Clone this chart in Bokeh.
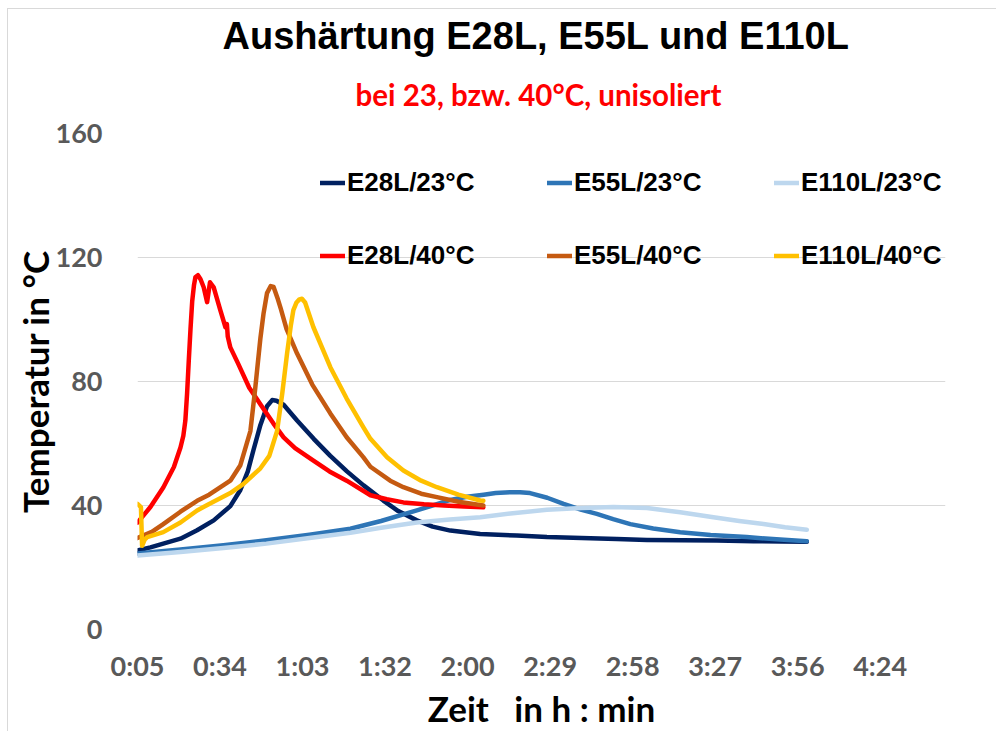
from bokeh.plotting import figure
from bokeh.models import Range1d, FixedTicker, Legend, LegendItem, Title
from bokeh.embed import file_html
from bokeh.resources import INLINE

# ---------------- data (time in minutes, temperature in °C) ----------------
e28_23_t = [5, 9.5, 14, 20, 25.8, 31.6, 37.4, 40.9, 43.5, 45.5, 47.9, 50.2, 52, 53.5, 56, 60.7, 66.5, 72.3,
            78.1, 83.9, 90.8, 96, 102.5, 108, 114.2, 124.6, 137.4, 147.9, 160, 172.3, 182.8, 195, 207.2,
            220, 230, 238.6]
e28_23_T = [25.5, 26.5, 27.7, 29.3, 32, 35.2, 39.8, 45, 51, 58, 66, 72, 74, 73.8, 72.5, 67.4, 61.5, 56,
            51, 46.5, 41.6, 38.2, 35.2, 33.2, 31.9, 30.8, 30.3, 29.8, 29.5, 29.2, 28.9, 28.8, 28.7,
            28.5, 28.4, 28.3]

e55_23_t = [5, 20, 35, 50, 65, 79.3, 90, 102.5, 114.2, 120, 125.8, 130, 135, 138.5, 142, 148, 153.7, 160,
            165.3, 171, 177, 185, 194.4, 205, 217.6, 228, 238.6]
e55_23_T = [24.5, 25.8, 27.2, 28.8, 30.6, 32.5, 35, 38.4, 41.8, 42.8, 43.5, 44.0, 44.3, 44.3, 44.0, 42.5,
            40.5, 38.6, 37.3, 35.6, 34, 32.6, 31.4, 30.5, 29.8, 29.1, 28.5]

e110_23_t = [5, 20, 35, 50, 65, 79.3, 90, 102.5, 114, 124.6, 136, 147.9, 160, 171.1, 182.8, 194.4, 206,
             215, 223.5, 231, 238.6]
e110_23_T = [23.9, 25.0, 26.3, 27.7, 29.5, 31.2, 32.8, 34.5, 35.5, 36.2, 37.5, 38.6, 39.2, 39.5, 39.2,
             37.8, 36.2, 35.0, 34.0, 33.0, 32.2]

e28_40_t = [5, 9.5, 14, 17.7, 20, 21, 21.7, 22.3, 22.9, 23.5, 24.1, 24.7, 25.2, 26.1, 27, 28.1, 29.3, 30.3,
            31.6, 33.9, 35.7, 36.2, 36.5, 37.4, 40, 44, 48, 52.4, 56, 60, 66.4, 72, 78, 86.3, 92, 97.8,
            105, 112, 119, 125.7]
e28_40_T = [34.5, 39.5, 45.8, 52.4, 58.7, 62.5, 67.4, 76, 86.8, 97, 106, 111, 113.6, 114.3, 113, 110.4,
            105.6, 112, 110.4, 103, 97.5, 98.5, 94.5, 91, 86, 78, 72.5, 66.5, 62, 58.5, 54.5, 51, 48,
            43.3, 42.0, 41.0, 40.4, 40, 39.7, 39.4]

e55_40_t = [5, 10, 14, 20, 25.8, 30, 37.4, 40.9, 42.5, 44.4, 46, 47.9, 49, 50.2, 51.5, 52.5, 54, 55, 57,
            60.7, 66, 72.3, 78, 83.8, 86.3, 93.2, 97.8, 104, 109.5, 117, 125.7]
e55_40_T = [29.5, 31.5, 34, 38, 41.5, 43.5, 48, 53, 58, 64, 77, 94, 102, 108.5, 110.8, 110.5, 106.5, 103.5,
            97, 89, 79, 69.7, 62, 55.6, 52.5, 48, 45.9, 43.8, 42.7, 41.2, 40]

e110_40_t = [5, 6.2, 6.6, 7.5, 8.4, 14, 20, 25.8, 30, 37.4, 42, 47.9, 51, 53.7, 55.5, 57.2, 58.5, 59.4,
             60.5, 61.5, 62.4, 63.5, 66.4, 72.3, 78, 83.8, 86.3, 92.1, 97.8, 104, 109.5, 117, 124.6, 125.7]
e110_40_T = [40.5, 39.5, 27, 29, 29.8, 31.4, 34.5, 38.4, 40.5, 44, 47, 52, 56, 64, 76, 89, 98, 103, 105.5,
             106.5, 106.7, 105.5, 97.5, 84.6, 74.5, 65.3, 61.5, 55.6, 51.3, 48, 45.9, 43.5, 41.6, 41.5]

series_names = ["E28L/23°C", "E55L/23°C", "E110L/23°C", "E28L/40°C", "E55L/40°C", "E110L/40°C"]
series_colors = ["#002060", "#2E75B6", "#BDD7EE", "#FF0000", "#C55A11", "#FFC000"]

x_tick_pos = [5, 33.8, 62.6, 91.4, 120.2, 149.0, 177.8, 206.6, 235.4, 264.2]
x_tick_labels = ["0:05", "0:34", "1:03", "1:32", "2:00", "2:29", "2:58", "3:27", "3:56", "4:24"]
y_ticks = [0, 40, 80, 120, 160]

title_text = "Aushärtung E28L, E55L und E110L"
subtitle_text = "bei 23, bzw. 40°C, unisoliert"
x_title = "Zeit \u00a0 in h : min"
y_title = "Temperatur in °C"

# ---------------- figure ----------------
W, H = 996, 731
p = figure(width=W, height=H, output_backend="svg", toolbar_location=None,
           x_range=Range1d(5, 287), y_range=Range1d(0, 160),
           styles={"background": "linear-gradient(#D9D9D9,#D9D9D9) 7px 8px / 1px 100% no-repeat, "
                                 "linear-gradient(#D9D9D9,#D9D9D9) 7px 8px / 100% 1px no-repeat, white"})
p.title = None
p.min_border_left = 137
p.min_border_right = W - 945
p.min_border_top = 133
p.min_border_bottom = H - 629
p.outline_line_color = None
p.background_fill_color = "white"
p.border_fill_color = None

TICK_FONT = "Lato"
p.xaxis.ticker = FixedTicker(ticks=x_tick_pos)
p.xaxis.major_label_overrides = {v: s for v, s in zip(x_tick_pos, x_tick_labels)}
p.yaxis.ticker = FixedTicker(ticks=y_ticks)
for ax in (p.xaxis[0], p.yaxis[0]):
    ax.axis_line_color = None
    ax.major_tick_line_color = None
    ax.minor_tick_line_color = None
    ax.major_tick_out = 0
    ax.major_tick_in = 0
    ax.minor_tick_out = 0
    ax.minor_tick_in = 0
    ax.major_label_text_font = TICK_FONT
    ax.major_label_text_font_style = "bold"
    ax.major_label_text_font_size = "27px"
    ax.major_label_text_color = "#595959"
    ax.axis_label_text_font = "Lato"
    ax.axis_label_text_font_style = "bold"
    ax.axis_label_text_font_size = "35px"
    ax.axis_label_text_color = "black"
p.xaxis.major_label_standoff = 19
p.yaxis.major_label_standoff = 35
p.xaxis.axis_label = x_title
p.yaxis.axis_label = y_title
p.xaxis.axis_label_standoff = 2
p.yaxis.axis_label_standoff = -3

p.xgrid.grid_line_color = None
p.ygrid.grid_line_color = "#D9D9D9"
p.ygrid.grid_line_width = 1

xs = [e28_23_t, e55_23_t, e110_23_t, e28_40_t, e55_40_t, e110_40_t]
ys = [e28_23_T, e55_23_T, e110_23_T, e28_40_T, e55_40_T, e110_40_T]
items = []
for name, c, x, y in zip(series_names, series_colors, xs, ys):
    r = p.line(x, y, line_color=c, line_width=4.5, line_join="round", line_cap="round")
    items.append(LegendItem(label=name, renderers=[r]))

legend = Legend(items=items, ncols=3, orientation="horizontal",
                location=(183, 337), padding=0, margin=0, spacing=0,
                glyph_width=25, glyph_height=73, label_height=73, label_width=200,
                label_standoff=2, border_line_color=None, background_fill_alpha=0,
                label_text_font="Liberation Sans", label_text_font_style="bold",
                label_text_font_size="26px", label_text_color="black",
                label_text_baseline="middle")
p.add_layout(legend, "center")

# titles: the first added "above" sits next to the frame
p.add_layout(Title(text=subtitle_text, align="left", offset=218, standoff=44,
                   text_font="Lato", text_font_style="bold", text_font_size="29.5px",
                   text_color="#FF0000"), "above")
p.add_layout(Title(text=title_text, align="left", offset=85, standoff=-8,
                   text_font="Liberation Sans", text_font_style="bold", text_font_size="38px",
                   text_color="black"), "above")

open("out.html", "w").write(file_html(p, INLINE))
